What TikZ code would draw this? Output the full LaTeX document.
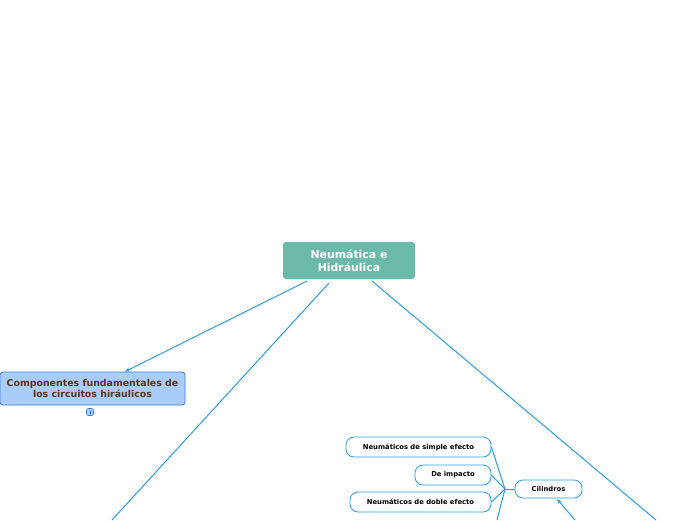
\documentclass[tikz,border=0pt]{standalone}
\usepackage{fontspec}
\setmainfont{DejaVu Sans}
\usetikzlibrary{arrows.meta}
\definecolor{linec}{HTML}{2D9BE0}
\definecolor{rootc}{HTML}{6BB9A8}
\definecolor{compfill}{HTML}{A9CDFA}
\definecolor{compdraw}{HTML}{3A7BD5}
\definecolor{comptext}{HTML}{5A3410}
\tikzset{
  conn/.style={draw=linec, line width=1pt},
  arr/.style={conn, -{Stealth[length=5pt,width=4pt]}},
  rootbox/.style={fill=rootc, draw=none, rounded corners=3pt, text=white, font=\bfseries\fontsize{10.9}{12.8}\selectfont, align=center, inner sep=0pt},
  compbox/.style={fill=compfill, draw=compdraw, line width=0.8pt, rounded corners=3pt, text=comptext, font=\bfseries\fontsize{9.4}{11}\selectfont, align=center, inner sep=0pt},
  leaf/.style={fill=white, draw=linec, line width=0.8pt, rounded corners=8pt, text=black, font=\bfseries\fontsize{6.8}{8}\selectfont, align=center, inner sep=0pt},
}
\begin{document}
\begin{tikzpicture}[x=1pt,y=-1pt]
\useasboundingbox (0,0) rectangle (696,520);
% root
\node[rootbox, minimum width=132pt, minimum height=37pt] (root) at (349,260.5) {Neumática e\\Hidráulica};
% componentes
\node[compbox, minimum width=185pt, minimum height=33pt] (comp) at (92.5,388.5) {Componentes fundamentales de\\los circuitos hiráulicos};
\node[fill=compfill, draw=compdraw, line width=0.6pt, rounded corners=2pt, minimum width=7pt, minimum height=7pt, inner sep=0pt] (coll) at (90,412) {};
\draw[draw=compdraw!70!black, line width=0.7pt] (coll.center) ++(0,-1.5) -- ++(0,3);
% leaves
\node[leaf, minimum width=67pt, minimum height=18pt] (cil) at (548.5,489) {Cilindros};
\node[leaf, minimum width=145pt, minimum height=20pt] (simple) at (418.5,447) {Neumáticos de simple efecto};
\node[leaf, minimum width=76pt, minimum height=20pt] (impacto) at (453,475) {De impacto};
\node[leaf, minimum width=141pt, minimum height=20pt] (doble) at (420.5,502) {Neumáticos de doble efecto};
% coordinates
\coordinate (r1) at (307,281);
\coordinate (r2) at (329,283);
\coordinate (r3) at (372,281);
\coordinate (offA) at (112,520);
\coordinate (offB) at (656,520);
\coordinate (offC) at (575,520);
\coordinate (offD) at (497,520);
\coordinate (fan) at (505,489);
\coordinate (cilin) at (557,499);
% connectors
\draw[arr] (r1) -- (comp.north -| 125,0);
\draw[conn] (r2) -- (offA);
\draw[conn] (r3) -- (offB);
\draw[arr] (offC) -- (cilin);
\draw[conn] (cil.west) -- (fan);
\draw[conn] (fan) -- (simple.east);
\draw[conn] (fan) -- (impacto.east);
\draw[conn] (fan) -- (doble.east);
\draw[conn] (fan) -- (offD);
\end{tikzpicture}
\end{document}
